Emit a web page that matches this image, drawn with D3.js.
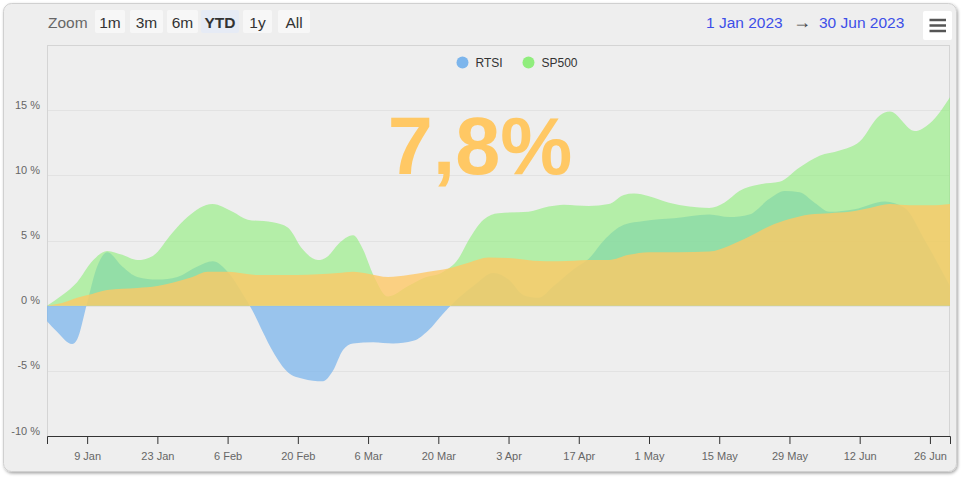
<!DOCTYPE html>
<html><head><meta charset="utf-8">
<script src="https://cdn.jsdelivr.net/npm/d3@7"></script>
<style>
html,body{margin:0;padding:0;background:#fff;}
svg{display:block;font-family:"Liberation Sans",Arial,Helvetica,sans-serif;}
</style></head>
<body><svg id="c" width="962" height="478"></svg>
<script>
// ---------- data ----------
const rangeStart = "2023-01-01";
const rangeEnd = "2023-06-30";
const zoomButtons = ["1m","3m","6m","YTD","1y","All"];
const selectedButton = "YTD";
const rangeLabels = ["1 Jan 2023","30 Jun 2023"];
const yTicks = [-10,-5,0,5,10,15];
const xTickDates = ["2023-01-09","2023-01-23","2023-02-06","2023-02-20","2023-03-06","2023-03-20","2023-04-03","2023-04-17","2023-05-01","2023-05-15","2023-05-29","2023-06-12","2023-06-26"];
const bigLabel = "7,8%";

const rtsiDates = ["2023-01-01","2023-01-03","2023-01-06","2023-01-07","2023-01-09","2023-01-11","2023-01-13","2023-01-16","2023-01-19","2023-01-23","2023-01-27","2023-01-31","2023-02-03","2023-02-06","2023-02-09","2023-02-11","2023-02-13","2023-02-15","2023-02-18","2023-02-21","2023-02-25","2023-02-27","2023-03-01","2023-03-03","2023-03-07","2023-03-11","2023-03-15","2023-03-18","2023-03-21","2023-03-23","2023-03-27","2023-03-31","2023-04-03","2023-04-06","2023-04-09","2023-04-12","2023-04-16","2023-04-19","2023-04-22","2023-04-26","2023-04-30","2023-05-06","2023-05-13","2023-05-17","2023-05-21","2023-05-25","2023-05-28","2023-05-31","2023-06-03","2023-06-06","2023-06-11","2023-06-17","2023-06-21","2023-06-25","2023-06-30"];
const rtsiValues = [-1.2,-2.0,-2.95,-2.6,0.2,3.0,4.1,3.0,2.2,2.0,2.2,3.0,3.4,2.6,0.9,-0.4,-2.0,-3.5,-5.1,-5.6,-5.8,-5.0,-3.4,-2.9,-2.8,-2.9,-2.7,-1.9,-0.6,0.2,1.5,2.5,2.0,0.8,0.6,1.5,2.8,3.6,5.0,6.2,6.5,6.7,7.0,6.8,7.0,8.2,8.8,8.7,7.9,7.2,7.4,8.0,7.5,5.0,1.5];

const spDates = ["2023-01-01","2023-01-04","2023-01-07","2023-01-10","2023-01-13","2023-01-16","2023-01-19","2023-01-22","2023-01-26","2023-01-29","2023-02-03","2023-02-07","2023-02-10","2023-02-15","2023-02-18","2023-02-21","2023-02-24","2023-02-26","2023-02-28","2023-03-03","2023-03-05","2023-03-07","2023-03-10","2023-03-14","2023-03-17","2023-03-21","2023-03-24","2023-03-26","2023-03-29","2023-04-01","2023-04-07","2023-04-11","2023-04-14","2023-04-19","2023-04-23","2023-04-26","2023-04-28","2023-05-01","2023-05-05","2023-05-09","2023-05-13","2023-05-16","2023-05-19","2023-05-23","2023-05-27","2023-05-31","2023-06-04","2023-06-08","2023-06-12","2023-06-16","2023-06-18","2023-06-23","2023-06-26","2023-06-30"];
const spValues = [0,0.8,1.8,3.4,4.2,3.9,3.5,3.8,5.6,6.8,7.8,7.2,6.6,6.4,6.0,4.3,3.5,3.8,4.7,5.4,4.3,2.4,0.7,1.5,2.1,2.6,3.6,5.0,6.6,7.1,7.2,7.6,7.75,7.65,7.8,8.5,8.6,8.4,7.9,7.6,7.5,7.9,8.8,9.3,9.5,10.6,11.5,11.9,12.6,14.6,14.9,13.4,14.0,16.0];

const spreadDates = ["2023-01-01","2023-01-04","2023-01-07","2023-01-10","2023-01-13","2023-01-19","2023-01-23","2023-01-26","2023-01-30","2023-02-02","2023-02-06","2023-02-12","2023-02-20","2023-02-28","2023-03-03","2023-03-06","2023-03-10","2023-03-14","2023-03-18","2023-03-22","2023-03-26","2023-03-30","2023-04-03","2023-04-08","2023-04-13","2023-04-19","2023-04-23","2023-04-27","2023-05-01","2023-05-07","2023-05-13","2023-05-17","2023-05-21","2023-05-25","2023-05-29","2023-06-02","2023-06-06","2023-06-10","2023-06-14","2023-06-18","2023-06-22","2023-06-26","2023-06-30"];
const spreadValues = [0,0.2,0.6,0.9,1.2,1.35,1.5,1.75,2.2,2.6,2.6,2.35,2.35,2.5,2.6,2.45,2.2,2.35,2.6,2.85,3.3,3.7,3.65,3.45,3.4,3.5,3.5,3.9,4.1,4.1,4.15,4.6,5.3,6.1,6.65,7.0,7.1,7.2,7.5,7.8,7.7,7.7,7.8];

const seriesNames = ["RTSI","SP500"];
const seriesColors = ["#7cb5ec","#90ed7d","#ffc864"];

// ---------- layout ----------
const svg = d3.select("#c");
const plot = {l:47, t:45, r:950, b:436};
const parse = d3.utcParse("%Y-%m-%d");
const fmt = d3.utcFormat("%-d %b");

const defs = svg.append("defs");
const f = defs.append("filter").attr("id","sh").attr("x","-5%").attr("y","-5%").attr("width","110%").attr("height","112%");
f.append("feDropShadow").attr("dx",1).attr("dy",1.5).attr("stdDeviation",1.5).attr("flood-color","#000").attr("flood-opacity",0.35);
defs.append("clipPath").attr("id","clip").append("rect")
  .attr("x",plot.l).attr("y",plot.t).attr("width",plot.r-plot.l).attr("height",plot.b-plot.t);

svg.append("rect").attr("x",3.5).attr("y",3.5).attr("width",953).attr("height",468).attr("rx",8)
  .attr("fill","#eeeeee").attr("stroke","#d0d0d0").attr("filter","url(#sh)");

const x = d3.scaleUtc().domain([parse(rangeStart), parse(rangeEnd)]).range([plot.l, plot.r]);
const y = d3.scaleLinear().domain([-10,20]).range([plot.b, plot.t]);

// grid
svg.append("g").selectAll("line").data(yTicks.concat([20])).join("line")
  .attr("x1",plot.l).attr("x2",plot.r)
  .attr("y1",d=>Math.round(y(d))+0.5).attr("y2",d=>Math.round(y(d))+0.5)
  .attr("stroke","#e2e2e2");

// plot border
svg.append("rect").attr("x",plot.l+0.5).attr("y",plot.t+0.5).attr("width",plot.r-plot.l-1).attr("height",plot.b-plot.t)
  .attr("fill","none").attr("stroke","#d4d4d4");

// areas
const mk = (dates, vals) => dates.map((d,i)=>({date:parse(d), v:vals[i]}));
const series = [mk(rtsiDates, rtsiValues), mk(spDates, spValues), mk(spreadDates, spreadValues)];
const opac = [0.75, 0.62, 0.78];
const area = d3.area().curve(d3.curveMonotoneX).x(d=>x(d.date)).y0(y(0)).y1(d=>y(d.v));
const ga = svg.append("g").attr("clip-path","url(#clip)");
series.forEach((s,i)=>{
  ga.append("path").datum(s).attr("d",area).attr("fill",seriesColors[i]).attr("fill-opacity",opac[i]);
});

// big label
svg.append("text").attr("x",480).attr("y",174).attr("text-anchor","middle")
  .attr("font-size",81).attr("font-weight","bold").attr("fill","#ffc864").text(bigLabel);

// x axis
const xa = svg.append("g").attr("transform",`translate(0,${plot.b})`)
  .call(d3.axisBottom(x).tickValues(xTickDates.map(parse)).tickFormat(fmt).tickSizeOuter(0).tickSize(8).tickPadding(8));
xa.select(".domain").attr("stroke","#333");
xa.selectAll(".tick line").attr("stroke","#333");
xa.selectAll(".tick text").attr("fill","#666").attr("font-size",11).attr("font-family","Liberation Sans, Arial, sans-serif");

// y labels
svg.append("g").selectAll("text").data(yTicks).join("text")
  .attr("x",40).attr("y",d=>y(d)-1.5).attr("text-anchor","end")
  .attr("font-size",11).attr("fill","#666").text(d=>d+" %");

// legend
const lg = svg.append("g");
const legendX = [462.5, 528.5];
seriesNames.forEach((n,i)=>{
  lg.append("circle").attr("cx",legendX[i]).attr("cy",62.5).attr("r",6).attr("fill",seriesColors[i]);
  lg.append("text").attr("x",legendX[i]+13).attr("y",67).attr("font-size",12).attr("fill","#333").text(n);
});

// range selector
svg.append("text").attr("x",48).attr("y",28).attr("font-size",15.5).attr("fill","#666").text("Zoom");
const btnX = [95,130,167,201,243,278];
const btnW = [30,33,31,38,29,32];
zoomButtons.forEach((b,i)=>{
  const sel = b===selectedButton;
  svg.append("rect").attr("x",btnX[i]).attr("y",10).attr("width",btnW[i]).attr("height",23).attr("rx",2)
    .attr("fill", sel ? "#e6ebf5" : "#f7f7f7");
  svg.append("text").attr("x",btnX[i]+btnW[i]/2).attr("y",28).attr("text-anchor","middle")
    .attr("font-size",15.5).attr("font-weight", sel ? "bold" : "normal").attr("fill","#333").text(b);
});

// date range
svg.append("text").attr("x",706).attr("y",28).attr("font-size",15.5).attr("fill","#3d4fe8").text(rangeLabels[0]);
svg.append("text").attr("x",802).attr("y",28).attr("text-anchor","middle").attr("font-size",18).attr("fill","#444").text("\u2192");
svg.append("text").attr("x",819).attr("y",28).attr("font-size",15.5).attr("fill","#3d4fe8").text(rangeLabels[1]);

// menu button
svg.append("rect").attr("x",923).attr("y",11).attr("width",29).attr("height",29).attr("rx",2).attr("fill","#ffffff");
[20,25.5,31].forEach(yy=>{
  svg.append("line").attr("x1",929.5).attr("x2",946).attr("y1",yy).attr("y2",yy)
    .attr("stroke","#555").attr("stroke-width",2.5);
});
</script></body></html>
